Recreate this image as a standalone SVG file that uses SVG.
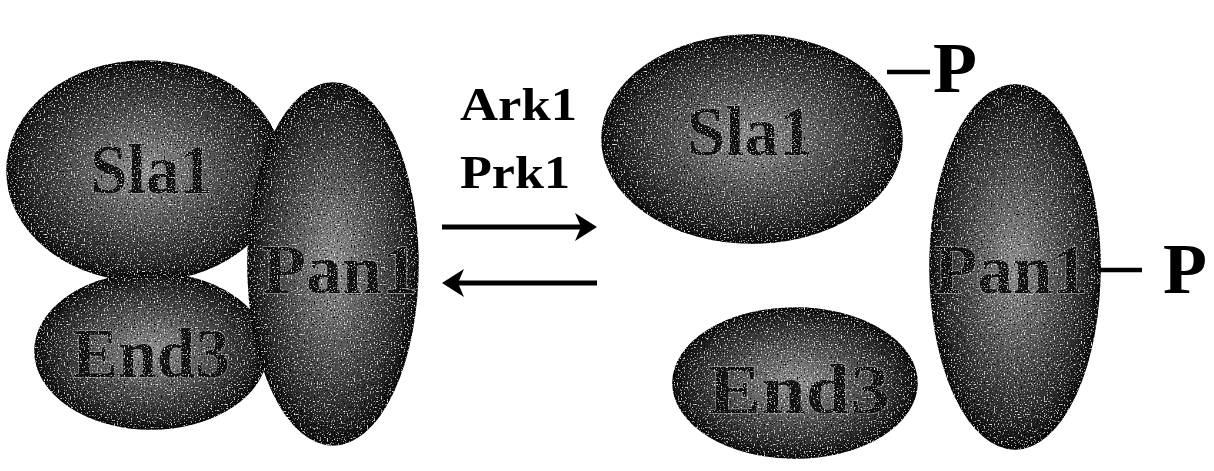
<svg xmlns="http://www.w3.org/2000/svg" width="1214" height="471" viewBox="0 0 1214 471">
<style>
.prot{fill:url(#g);stroke:#0a0a0a;stroke-width:1.5}
.node{filter:url(#grain)}
.lbl{font-family:"Liberation Serif","Times New Roman",serif;font-weight:bold;font-size:70px;fill:#151515;stroke:#9c9c9c;stroke-width:1.3;paint-order:stroke}
.txt{font-family:"Liberation Serif","Times New Roman",serif;font-weight:bold;fill:#000}
.conn{stroke:#000;stroke-width:5;fill:none}
.bond{stroke:#000;stroke-width:4.5}
</style>
<defs>
<radialGradient id="g" cx="50%" cy="50%" r="50%">
<stop offset="0" stop-color="#949494"/>
<stop offset="0.45" stop-color="#5c5c5c"/>
<stop offset="0.85" stop-color="#2a2a2a"/>
<stop offset="1" stop-color="#0e0e0e"/>
</radialGradient>
<filter id="grain" x="-2%" y="-2%" width="104%" height="104%">
<feTurbulence type="fractalNoise" baseFrequency="0.7" numOctaves="1" seed="4" result="t"/>
<feColorMatrix in="t" type="matrix" values="0 0 0 0 1  0 0 0 0 1  0 0 0 0 1  5 0 0 0 -3.0" result="w"/>
<feColorMatrix in="t" type="matrix" values="0 0 0 0 0  0 0 0 0 0  0 0 0 0 0  -5 0 0 0 2.3" result="b"/>
<feComposite in="w" in2="SourceGraphic" operator="in" result="w2"/>
<feComposite in="b" in2="SourceGraphic" operator="in" result="b2"/>
<feMerge><feMergeNode in="SourceGraphic"/><feMergeNode in="b2"/><feMergeNode in="w2"/></feMerge>
</filter>
<clipPath id="cPanL"><ellipse cx="333" cy="264" rx="85" ry="181"/></clipPath>
<clipPath id="cPanR"><ellipse cx="1015" cy="267" rx="85" ry="182"/></clipPath>
<marker id="ah" markerUnits="userSpaceOnUse" markerWidth="30" markerHeight="32" viewBox="0 -16 24 32" refX="15" refY="0" orient="auto">
<path d="M0,-14 L22,0 L0,14 L6,0 z" fill="#000"/>
</marker>
</defs>

<g id="sla1-left" class="node">
<ellipse class="prot" cx="145" cy="171" rx="138" ry="110"/>
<text class="lbl" x="90" y="193" textLength="123" lengthAdjust="spacingAndGlyphs">Sla1</text>
</g>
<g id="end3-left" class="node">
<ellipse class="prot" cx="151" cy="351" rx="116" ry="78"/>
<text class="lbl" x="72" y="377" textLength="158" lengthAdjust="spacingAndGlyphs">End3</text>
</g>
<g id="pan1-left" class="node">
<ellipse class="prot" cx="333" cy="264" rx="85" ry="181"/>
<g clip-path="url(#cPanL)"><text class="lbl" x="262" y="293" textLength="156" lengthAdjust="spacingAndGlyphs">Pan1</text></g>
</g>

<g id="sla1-right">
<g class="node">
<ellipse class="prot" cx="752" cy="139" rx="150" ry="104"/>
<text class="lbl" x="687" y="155" textLength="126" lengthAdjust="spacingAndGlyphs">Sla1</text>
</g>
<line class="bond" x1="887" y1="72" x2="930" y2="72"/>
<text class="txt" x="933" y="92" font-size="72">P</text>
</g>
<g id="end3-right" class="node">
<ellipse class="prot" cx="795" cy="383" rx="122" ry="75"/>
<text class="lbl" x="708" y="413" textLength="182" lengthAdjust="spacingAndGlyphs">End3</text>
</g>
<g id="pan1-right">
<g class="node">
<ellipse class="prot" cx="1015" cy="267" rx="85" ry="182"/>
<g clip-path="url(#cPanR)"><text class="lbl" x="934" y="293" textLength="154" lengthAdjust="spacingAndGlyphs">Pan1</text></g>
</g>
<line class="bond" x1="1100" y1="270" x2="1142" y2="270"/>
<text class="txt" x="1163" y="293" font-size="72">P</text>
</g>

<g id="connectors">
<line class="conn" x1="442" y1="227" x2="590" y2="227" marker-end="url(#ah)"/>
<line class="conn" x1="597" y1="283" x2="449" y2="283" marker-end="url(#ah)"/>
<text class="txt" x="460" y="120" font-size="46" textLength="117" lengthAdjust="spacingAndGlyphs">Ark1</text>
<text class="txt" x="460" y="188" font-size="46" textLength="110" lengthAdjust="spacingAndGlyphs">Prk1</text>
</g>
</svg>
